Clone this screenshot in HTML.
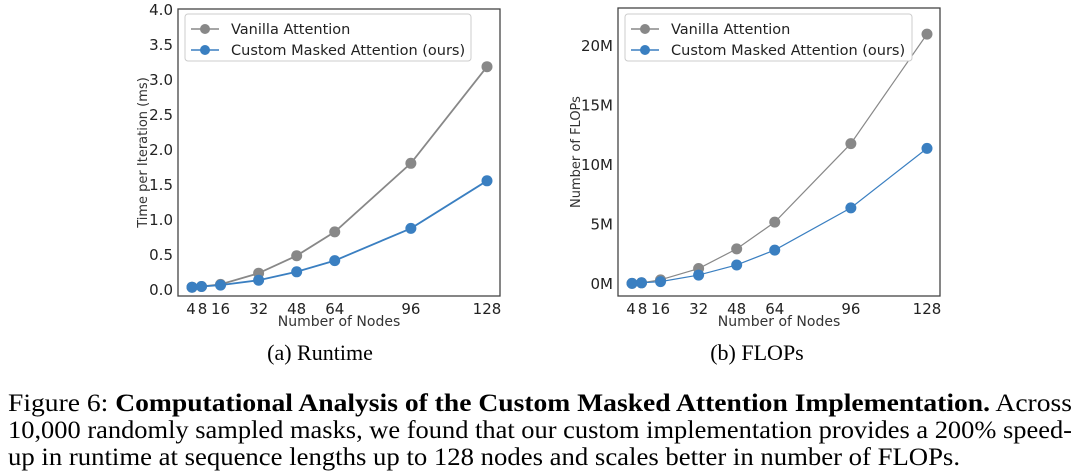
<!DOCTYPE html>
<html><head><meta charset="utf-8"><style>
body{margin:0;background:#fff;}
svg{display:block;font-family:"DejaVu Sans","Liberation Sans",sans-serif;}
.cap{font-family:"Liberation Serif",serif;font-size:25px;fill:#000;}
.sub{font-family:"Liberation Serif",serif;font-size:22px;fill:#000;}
</style></head><body>
<svg id="fig" width="1080" height="476" viewBox="0 0 1080 476">
<g id="chartA"></g>
<g id="chartB"></g>
<text class="sub" x="320" y="360" text-anchor="middle">(a) Runtime</text>
<text class="sub" x="757" y="360" text-anchor="middle">(b) FLOPs</text>
<text class="cap" x="8" y="411" textLength="1064" lengthAdjust="spacingAndGlyphs">Figure 6: <tspan font-weight="bold">Computational Analysis of the Custom Masked Attention Implementation.</tspan> Across</text>
<text class="cap" x="8" y="438" textLength="1064" lengthAdjust="spacingAndGlyphs">10,000 randomly sampled masks, we found that our custom implementation provides a 200% speed-</text>
<text class="cap" x="8" y="465" textLength="952" lengthAdjust="spacingAndGlyphs">up in runtime at sequence lengths up to 128 nodes and scales better in number of FLOPs.</text>
</svg>
<script>
const nodes=[4,8,16,32,48,64,96,128];
const tickLabels=["4","8","16","32","48","64","96","128"];
const runtimeVanilla=[0.04,0.05,0.08,0.24,0.49,0.83,1.81,3.19];
const runtimeCustom=[0.04,0.05,0.07,0.14,0.26,0.42,0.88,1.56];
const runtimeTicks=[0,0.5,1.0,1.5,2.0,2.5,3.0,3.5,4.0];
const flopsVanilla=[0.05,0.1,0.35,1.3,2.95,5.2,11.8,21.0];
const flopsCustom=[0.05,0.1,0.2,0.75,1.6,2.85,6.4,11.4];
const flopsTicks=[0,5,10,15,20];
const NS='http://www.w3.org/2000/svg';
function mk(p,t,a){const e=document.createElementNS(NS,t);for(const k in a)e.setAttribute(k,a[k]);p.appendChild(e);return e;}
function draw(g,cfg){
  const xs=v=>cfg.x0+(v-4)/124*(cfg.x1-cfg.x0);
  const ys=v=>cfg.y0-(v-cfg.ymin)/(cfg.ymax-cfg.ymin)*(cfg.y0-cfg.yTop);
  const fr=mk(g,'rect',{x:cfg.bx0,y:cfg.by0,width:cfg.bx1-cfg.bx0,height:cfg.by1-cfg.by0,fill:'none',stroke:'#444','stroke-width':1.3});
  
  
  cfg.yt.forEach(v=>{
    const t=mk(g,'text',{x:cfg.bx0-5,y:ys(v)+5,'text-anchor':'end','font-size':15,fill:'#222'});
    t.textContent=cfg.fmt(v);
    
    
  });
  nodes.forEach((n,i)=>{
    let dx=0; if(i===0)dx=-1; if(i===1)dx=1;
    const t=mk(g,'text',{x:xs(n)+dx,y:cfg.by1+18,'text-anchor':'middle','font-size':15,fill:'#222'});
    t.textContent=tickLabels[i];
    
    
  });
  const xl=mk(g,'text',{x:(cfg.bx0+cfg.bx1)/2,y:cfg.by1+30,'text-anchor':'middle','font-size':14,fill:'#333'});
  xl.textContent='Number of Nodes';
  
  
  const cy=(cfg.by0+cfg.by1)/2;
  const yl=mk(g,'text',{x:cfg.ylx,y:cy,'text-anchor':'middle','font-size':13,fill:'#333',transform:`rotate(-90 ${cfg.ylx} ${cy})`});
  yl.textContent=cfg.ytitle;
  
  
  [[cfg.v,'#888888','vanilla-series'],[cfg.c,'#3a7fc1','custom-series']].forEach(([d,col,nm])=>{
    const pl=mk(g,'polyline',{points:d.map((v,i)=>xs(nodes[i])+','+ys(v)).join(' '),fill:'none',stroke:col,'stroke-width':cfg.lw});
    
    
    d.forEach((v,i)=>{
      const c=mk(g,'circle',{cx:xs(nodes[i]),cy:ys(v),r:5.5,fill:col});
      
      
    });
  });
  const lg=mk(g,'g',{});
  
  
  mk(lg,'rect',{x:cfg.lx,y:14,width:cfg.lw2,height:47,rx:3,fill:'#fff',stroke:'#ccc'});
  [['Vanilla Attention','#888888',29],['Custom Masked Attention (ours)','#3a7fc1',50]].forEach(([s,col,y])=>{
    const e=mk(lg,'g',{});
    
    
    mk(e,'line',{x1:cfg.lx+6,x2:cfg.lx+34,y1:y,y2:y,stroke:col,'stroke-width':1.5});
    mk(e,'circle',{cx:cfg.lx+20,cy:y,r:5,fill:col});
    const t=mk(e,'text',{x:cfg.lx+46,y:y+5,'font-size':14.5,fill:'#222'});t.textContent=s;
  });
}
draw(document.getElementById('chartA'),{bx0:178,bx1:500,by0:9,by1:296,x0:192,x1:487,y0:290,yTop:10,ymin:0,ymax:4,
  v:runtimeVanilla,c:runtimeCustom,yt:runtimeTicks,fmt:v=>v.toFixed(1),ytitle:'Time per Iteration (ms)',ylx:147,lw:1.8,lx:185,lw2:286});
draw(document.getElementById('chartB'),{bx0:618,bx1:940,by0:8,by1:296,x0:632,x1:927,y0:284,yTop:46,ymin:0,ymax:20,
  v:flopsVanilla,c:flopsCustom,yt:flopsTicks,fmt:v=>v+'M',ytitle:'Number of FLOPs',ylx:580,lw:1.2,lx:625,lw2:287});
</script>
</body></html>
